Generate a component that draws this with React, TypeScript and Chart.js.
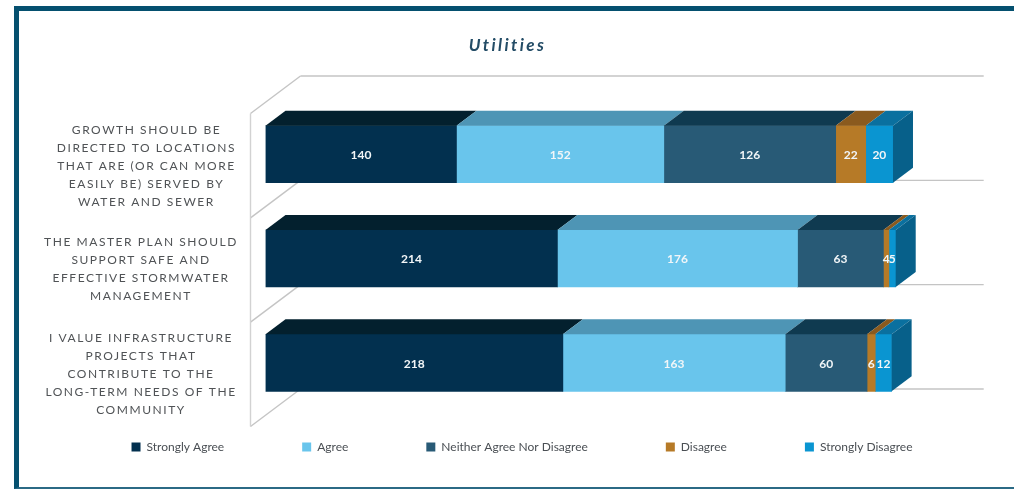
import React, { useEffect, useRef } from "react";
import { Chart, registerables } from "chart.js";

Chart.register(...registerables);

const categories = [
  ["GROWTH SHOULD BE", "DIRECTED TO LOCATIONS", "THAT ARE (OR CAN MORE", "EASILY BE) SERVED BY", "WATER AND SEWER"],
  ["THE MASTER PLAN SHOULD", "SUPPORT SAFE AND", "EFFECTIVE STORMWATER", "MANAGEMENT"],
  ["I VALUE INFRASTRUCTURE", "PROJECTS THAT", "CONTRIBUTE TO THE", "LONG-TERM NEEDS OF THE", "COMMUNITY"],
];
const stronglyAgree = [140, 214, 218];
const agree = [152, 176, 163];
const neither = [126, 63, 60];
const disagree = [22, 4, 6];
const stronglyDisagree = [20, 5, 12];

const frontColors = ["#02304f", "#69c5ec", "#285a76", "#b67a27", "#0a95d1"];
const topColors = ["#03202e", "#4e95b5", "#0f3a50", "#8a5a1e", "#0a709f"];
const sideColor = "#07608a";
const tickCenters = [146.5, 141, 141];
const tickShift = [12, 10.5, 11.5];
const DX = 20;
const DY = -15;

const threeD = {
  id: "threeD",
  afterLayout(chart: any) {
    const legend = chart.legend;
    legend.top = 363;
    legend.bottom = 363 + legend.height;
    legend.left = 15;
    legend.right = 1014 + 15;
    chart.titleBlock.right = 1015;
  },
  beforeDraw(chart: any) {
    const ctx = chart.ctx;
    const y = chart.scales.y;
    y.getLabelItems().forEach((item: any, i: number) => {
      item.options.translation[0] = tickCenters[i];
      item.options.translation[1] = y.getPixelForTick(i) + tickShift[i];
    });
    if (!chart.$spaced) {
      chart.$spaced = true;
      const drawLabels = y.drawLabels.bind(y);
      y.drawLabels = (a: any) => {
        ctx.save();
        ctx.letterSpacing = "1.55px";
        drawLabels(a);
        ctx.restore();
      };
      const title = chart.titleBlock;
      const drawTitle = title.draw.bind(title);
      title.draw = () => {
        ctx.save();
        ctx.letterSpacing = "2.4px";
        drawTitle();
        ctx.restore();
      };
    }
  },
  beforeDatasetsDraw(chart: any) {
    const { ctx, scales } = chart;
    const y = scales.y;
    const x = scales.x;
    const left = x.left;
    const right = x.right;
    const band = y.getPixelForTick(1) - y.getPixelForTick(0);
    ctx.save();
    ctx.lineWidth = 1.4;
    for (let i = 0; i <= categories.length; i++) {
      const front = y.getPixelForTick(0) - band / 2 + i * band + 11.5;
      const back = front - 37.5;
      ctx.strokeStyle = "#c4c4c4";
      ctx.beginPath();
      ctx.moveTo(left - 15, front);
      ctx.lineTo(left + 35, back);
      ctx.stroke();
      ctx.beginPath();
      ctx.moveTo(left + 35, back);
      ctx.lineTo(right, back);
      ctx.stroke();
    }
    ctx.strokeStyle = "#d2d2d2";
    ctx.beginPath();
    ctx.moveTo(left - 15, y.getPixelForTick(0) - band / 2 + 11.5);
    ctx.lineTo(left - 15, y.getPixelForTick(0) - band / 2 + categories.length * band + 11.5);
    ctx.stroke();
    ctx.restore();
  },
  afterDatasetsDraw(chart: any) {
    const ctx = chart.ctx;
    const count = chart.data.datasets.length;
    ctx.save();
    chart.data.datasets.forEach((ds: any, d: number) => {
      chart.getDatasetMeta(d).data.forEach((bar: any) => {
        const { x, y, base, height } = bar.getProps(["x", "y", "base", "height"]);
        const top = y - height / 2;
        const bottom = y + height / 2;
        ctx.fillStyle = topColors[d];
        ctx.beginPath();
        ctx.moveTo(base, top);
        ctx.lineTo(x, top);
        ctx.lineTo(x + DX, top + DY);
        ctx.lineTo(base + DX, top + DY);
        ctx.closePath();
        ctx.fill();
        if (d === count - 1) {
          ctx.fillStyle = sideColor;
          ctx.beginPath();
          ctx.moveTo(x, top);
          ctx.lineTo(x + DX, top + DY);
          ctx.lineTo(x + DX, bottom + DY);
          ctx.lineTo(x, bottom);
          ctx.closePath();
          ctx.fill();
        }
      });
    });
    ctx.font = "bold 12px Lato";
    ctx.fillStyle = "#f2f6f8";
    ctx.textAlign = "center";
    ctx.textBaseline = "middle";
    chart.data.datasets.forEach((ds: any, d: number) => {
      chart.getDatasetMeta(d).data.forEach((bar: any, i: number) => {
        const { x, y, base } = bar.getProps(["x", "y", "base"]);
        ctx.fillText(String(ds.data[i]), (x + base) / 2, y + 1);
      });
    });
    ctx.restore();
  },
};

export default function App() {
  const ref = useRef<HTMLCanvasElement>(null);
  useEffect(() => {
    const series = [
      ["Strongly Agree", stronglyAgree],
      ["Agree", agree],
      ["Neither Agree Nor Disagree", neither],
      ["Disagree", disagree],
      ["Strongly Disagree", stronglyDisagree],
    ] as [string, number[]][];
    const chart = new Chart(ref.current as HTMLCanvasElement, {
      type: "bar",
      data: {
        labels: categories,
        datasets: series.map(([label, data], i) => ({
          label,
          data,
          backgroundColor: frontColors[i],
          barThickness: 57,
          borderWidth: 0,
        })),
      },
      plugins: [threeD],
      options: {
        indexAxis: "y",
        responsive: false,
        animation: false,
        layout: { padding: { left: 0, right: 30.3, top: 0, bottom: -98 } },
        plugins: {
          tooltip: { enabled: false },
          title: {
            display: true,
            text: "Utilities",
            color: "#234c66",
            font: { family: "Lato", size: 17, weight: "bold", style: "italic" },
            padding: { top: 35, bottom: 46.6 },
          },
          legend: {
            position: "bottom",
            labels: {
              color: "#4a4f54",
              font: { family: "Lato", size: 12 },
              boxWidth: 9,
              boxHeight: 9,
              padding: 78,
            },
          },
        },
        scales: {
          x: { display: false, stacked: true, min: 0, max: 526.5 },
          y: {
            stacked: true,
            grid: { display: false },
            border: { display: false },
            afterFit: (s: any) => {
              s.width = 265.5;
              s.paddingTop = 0;
              s.paddingBottom = 74;
            },
            ticks: {
              crossAlign: "center",
              color: "#505356",
              font: { family: "Lato", size: 12, lineHeight: 1.5 },
              autoSkip: false,
            },
          },
        },
      },
    } as any);
    return () => chart.destroy();
  }, []);
  return (
    <div style={{ position: "absolute", left: 0, top: 0, width: 1014, height: 489, overflow: "hidden", background: "#fff" }}>
      <div
        style={{
          position: "absolute",
          left: 14,
          top: 6,
          width: 1000,
          height: 483,
          boxSizing: "border-box",
          borderTop: "5px solid #05506f",
          borderLeft: "5px solid #05506f",
          borderBottom: "2px solid #2b6a85",
        }}
      />
      <canvas ref={ref} width={1014} height={489} style={{ position: "absolute", left: 0, top: 0 }} />
    </div>
  );
}
